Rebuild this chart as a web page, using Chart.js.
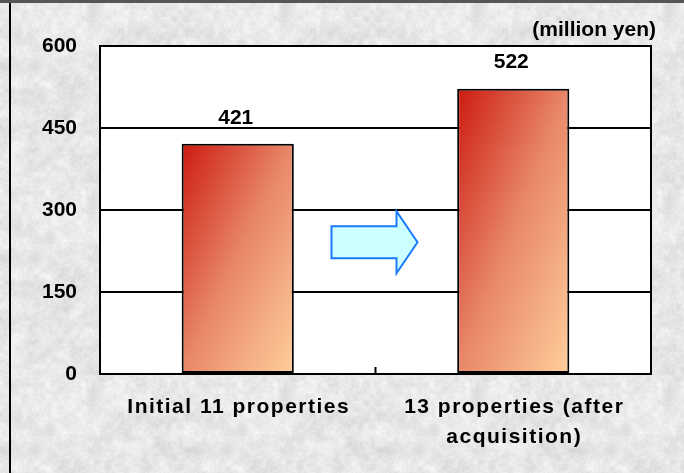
<!DOCTYPE html>
<html lang="en">
<head>
    <meta charset="UTF-8">
    <title>Rent revenue comparison</title>
    <script src="https://cdn.jsdelivr.net/npm/chart.js"></script>
    <style>
        body { margin: 0; background: #fff; }
        canvas { display: block; }
    </style>
</head>
<body>
    <canvas id="chart" width="684" height="473"></canvas>
    <script>
        // data
        const categories = [["Initial 11 properties"], ["13 properties (after", "acquisition)"]];
        const values = [421, 522];
        const yTicks = [0, 150, 300, 450, 600];
        const unitLabel = "(million yen)";
        const arrowAt = 241; // y value where the arrow sits, between the bars

        const FONT = '"Liberation Sans", Arial, sans-serif';
        const BAR_PCT = 0.407;

        // grey marble-ish texture for the page background
        function hash(i, j) {
            let h = Math.imul(i, 374761393) + Math.imul(j, 668265263);
            h = Math.imul(h ^ (h >>> 13), 1274126177);
            return ((h ^ (h >>> 16)) >>> 0) / 4294967295;
        }
        function noise(x, y, cell, size) {
            const n = size / cell;
            const gx = x / cell, gy = y / cell;
            const i = Math.floor(gx), j = Math.floor(gy);
            const fx = gx - i, fy = gy - j;
            const sx = fx * fx * (3 - 2 * fx), sy = fy * fy * (3 - 2 * fy);
            const v = (a, b) => hash(((a % n) + n) % n + cell * 7, ((b % n) + n) % n + cell * 13);
            const top = v(i, j) * (1 - sx) + v(i + 1, j) * sx;
            const bot = v(i, j + 1) * (1 - sx) + v(i + 1, j + 1) * sx;
            return top * (1 - sy) + bot * sy;
        }
        function makeTexture() {
            const size = 192;
            const c = document.createElement("canvas");
            c.width = size; c.height = size;
            const g = c.getContext("2d");
            const img = g.createImageData(size, size);
            for (let y = 0; y < size; y++) {
                for (let x = 0; x < size; x++) {
                    const n = noise(x, y, 16, size) * 0.35 + noise(x, y, 6, size) * 0.35 + noise(x, y, 2, size) * 0.3;
                    const v = Math.round(231 + (n - 0.5) * 40);
                    const k = (y * size + x) * 4;
                    img.data[k] = v; img.data[k + 1] = v; img.data[k + 2] = v; img.data[k + 3] = 255;
                }
            }
            g.putImageData(img, 0, 0);
            return c;
        }
        const texture = makeTexture();

        function barHalf(chart) {
            return chart.scales.x.width / categories.length * BAR_PCT / 2;
        }

        const background = {
            id: "background",
            beforeDraw(chart) {
                const { ctx, width, height, chartArea: a } = chart;
                ctx.save();
                ctx.fillStyle = ctx.createPattern(texture, "repeat");
                ctx.fillRect(0, 0, width, height);
                ctx.fillStyle = "#565656";
                ctx.fillRect(0, 0, width, 3);
                ctx.fillStyle = "#000";
                ctx.fillRect(9, 3, 2, height - 3);
                ctx.fillStyle = "#fff";
                ctx.fillRect(a.left, a.top, a.right - a.left, a.bottom - a.top);
                ctx.restore();
            }
        };

        const decorations = {
            id: "decorations",
            afterDraw(chart) {
                const { ctx, chartArea: a } = chart;
                const xs = chart.scales.x, ys = chart.scales.y;
                ctx.save();

                // plot frame
                ctx.strokeStyle = "#000";
                ctx.lineWidth = 2;
                ctx.strokeRect(a.left, a.top, a.right - a.left, a.bottom - a.top);

                // tick between the categories
                const mid = xs.getPixelForValue(0.5);
                ctx.beginPath();
                ctx.moveTo(mid, a.bottom - 7);
                ctx.lineTo(mid, a.bottom);
                ctx.stroke();

                // arrow
                const ax = mid - 1, ay = ys.getPixelForValue(arrowAt);
                const len = 86, body = 16, head = 31, headLen = 21;
                const x0 = ax - len / 2, x1 = ax + len / 2, xh = x1 - headLen;
                ctx.beginPath();
                ctx.moveTo(x0, ay - body);
                ctx.lineTo(xh, ay - body);
                ctx.lineTo(xh, ay - head);
                ctx.lineTo(x1, ay);
                ctx.lineTo(xh, ay + head);
                ctx.lineTo(xh, ay + body);
                ctx.lineTo(x0, ay + body);
                ctx.closePath();
                ctx.fillStyle = "#ccffff";
                ctx.fill();
                ctx.strokeStyle = "#1a7aff";
                ctx.lineWidth = 2;
                ctx.stroke();

                ctx.fillStyle = "#000";
                ctx.font = "bold 21px " + FONT;
                ctx.textBaseline = "middle";
                ctx.textAlign = "center";

                // value labels
                values.forEach((v, i) => {
                    ctx.fillText(String(v), xs.getPixelForValue(i) - 2, ys.getPixelForValue(v) - 26);
                });

                // category labels
                ctx.letterSpacing = "1.5px";
                categories.forEach((lines, i) => {
                    lines.forEach((line, k) => {
                        ctx.fillText(line, xs.getPixelForValue(i) + 1, a.bottom + 33 + k * 30);
                    });
                });

                // unit
                ctx.letterSpacing = "0px";
                ctx.textAlign = "right";
                ctx.fillText(unitLabel, a.right + 5, a.top - 16);
                ctx.restore();
            }
        };

        new Chart(document.getElementById("chart"), {
            type: "bar",
            data: {
                labels: categories.map((c) => c.join(" ")),
                datasets: [{
                    data: values,
                    borderColor: "#000",
                    borderWidth: 2,
                    borderSkipped: false,
                    categoryPercentage: 1,
                    barPercentage: BAR_PCT,
                    backgroundColor(c) {
                        const chart = c.chart;
                        const a = chart.chartArea;
                        if (!a || !chart.scales.x) return "#e07050";
                        const half = barHalf(chart);
                        const cx = chart.scales.x.getPixelForValue(c.dataIndex);
                        const top = chart.scales.y.getPixelForValue(values[c.dataIndex]);
                        const w = half * 2, h = a.bottom - top;
                        const k = 2 * w * h / (w * w + h * h);
                        const g = chart.ctx.createLinearGradient(cx - half, top, cx - half + h * k, top + w * k);
                        g.addColorStop(0, "#cc1a10");
                        g.addColorStop(0.5, "#e8886a");
                        g.addColorStop(1, "#ffcf9c");
                        return g;
                    }
                }]
            },
            options: {
                responsive: false,
                animation: false,
                layout: { padding: { left: 0, top: 46, right: 33, bottom: 0 } },
                plugins: {
                    legend: { display: false },
                    tooltip: { enabled: false }
                },
                scales: {
                    x: {
                        grid: { display: false },
                        border: { display: false },
                        ticks: { display: false },
                        afterFit(scale) { scale.height = 99; }
                    },
                    y: {
                        min: 0,
                        max: 600,
                        grid: { color: "#000", lineWidth: 2, drawTicks: false },
                        border: { display: false },
                        ticks: {
                            stepSize: 150,
                            padding: 23,
                            color: "#000",
                            font: { family: FONT, size: 21, weight: "bold" },
                            callback: (v) => (yTicks.includes(v) ? v : "")
                        },
                        afterFit(scale) { scale.width = 100; }
                    }
                }
            },
            plugins: [background, decorations]
        });
    </script>
</body>
</html>
